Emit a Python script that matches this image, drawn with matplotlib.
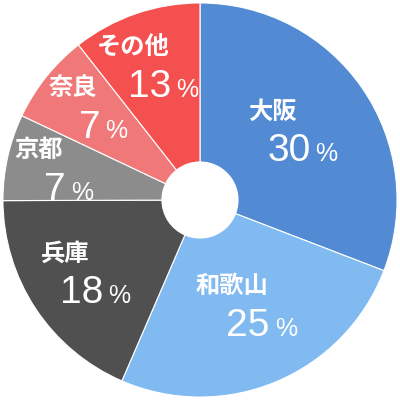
import matplotlib.pyplot as plt
import numpy as np

labels = ['大阪', '和歌山', '兵庫', '京都', '奈良', 'その他']
# wedge sizes as drawn in the picture
shares = [30.9, 25.7, 18.5, 7.1, 7.4, 10.6]
# percentages written on the wedges
pct_labels = [30, 25, 18, 7, 7, 13]
colors = ['#528bd4', '#80baf0', '#505050', '#8c8c8c', '#f07878', '#f55050']

# label placement: radius and angle nudge (deg) from the wedge middle
label_r = [0.57, 0.58, 0.71, 0.76, 0.74, 0.73]
label_dang = [4.5, 1.3, -2.6, 0.3, -1.3, 2.2]

fig = plt.figure(figsize=(4, 4), dpi=100)
ax = fig.add_axes([0, 0, 1, 1])
wedges, _ = ax.pie(shares, colors=colors, startangle=90, counterclock=False,
                   radius=1.0, wedgeprops=dict(width=0.807, edgecolor='white', linewidth=0.8))
ax.set_xlim(-1.015, 1.015)
ax.set_ylim(-1.015, 1.015)
ax.set_aspect('equal')
ax.axis('off')

fig.canvas.draw()
renderer = fig.canvas.get_renderer()
px = 1.0 / 197  # data units per pixel

for w, name, v, r, da in zip(wedges, labels, pct_labels, label_r, label_dang):
    ang = np.deg2rad((w.theta1 + w.theta2) / 2 + da)
    cx, cy = r * np.cos(ang), r * np.sin(ang)
    ax.text(cx - 15 * px, cy + 18 * px, name, ha='center', va='center',
            fontsize=17.5, fontweight='bold', color='white',
            family=['Noto Sans CJK JP', 'DejaVu Sans'])
    num = ax.text(0, 0, str(v), ha='left', va='baseline', fontsize=28,
                  color='white', family='Liberation Sans')
    pct = ax.text(0, 0, '%', ha='left', va='baseline', fontsize=18,
                  color='white', family='Liberation Sans')
    wn = num.get_window_extent(renderer).width
    wp = pct.get_window_extent(renderer).width
    gap = 5
    total = wn + gap + wp
    left = cx + 15 * px - total / 2 * px
    base = cy - 18 * px - 13.5 * px
    num.set_position((left, base))
    pct.set_position((left + (wn + gap) * px, base))

fig.savefig('out.png', dpi=100)
